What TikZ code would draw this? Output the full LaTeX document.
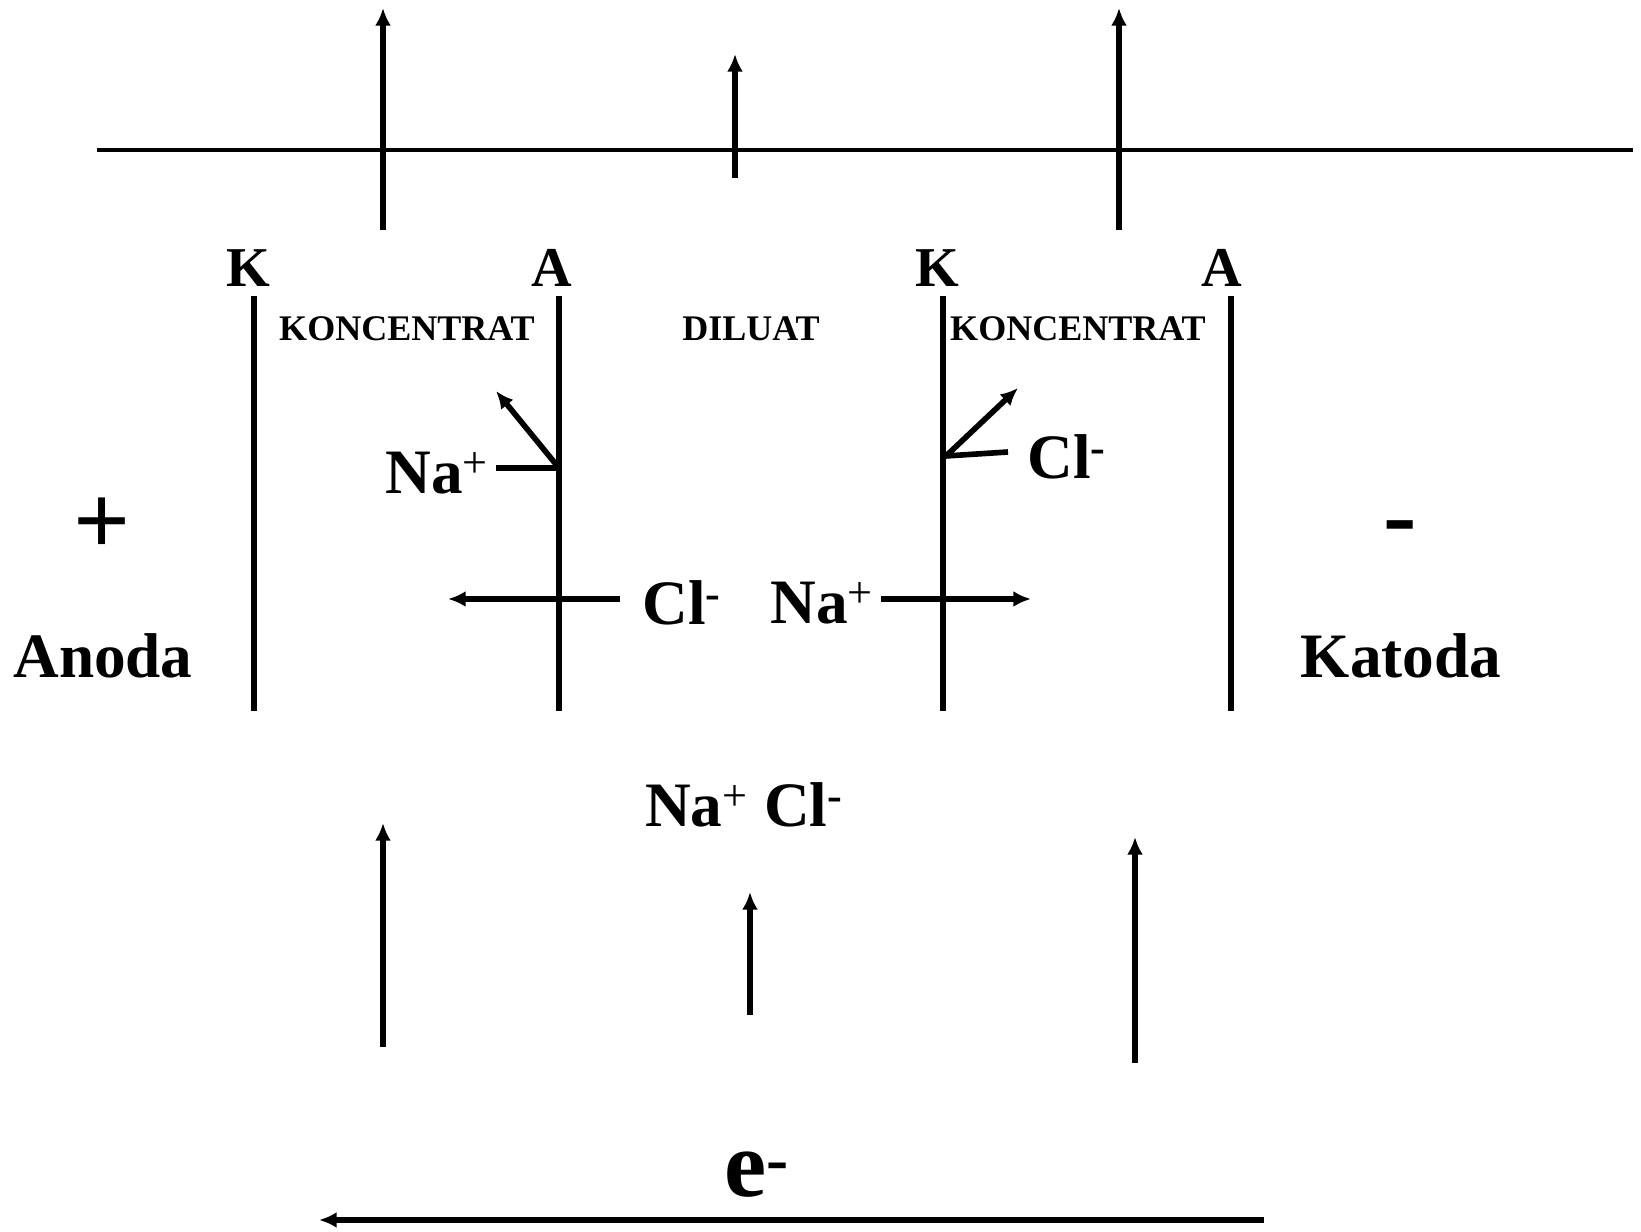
\documentclass[tikz,border=0pt]{standalone}
\usepackage{fontspec}
\setmainfont{Liberation Serif}
\usetikzlibrary{arrows.meta}

\newcommand{\plusup}{\textsuperscript{\mdseries+}}
\newcommand{\minusup}{\textsuperscript{-}}

\tikzset{
  membrane/.style={line width=3.1pt},
  flow/.style={->, line width=2.9pt},
  ion/.style={->, line width=3.2pt},
  memlbl/.style={inner sep=0pt, font=\bfseries\fontsize{32}{32}\selectfont},
  zone/.style={inner sep=0pt, font=\bfseries\fontsize{20.5}{20.5}\selectfont},
  chem/.style={inner sep=0pt, font=\bfseries\fontsize{36}{36}\selectfont},
  pole/.style={inner sep=0pt, font=\bfseries\fontsize{57}{57}\selectfont}
}

\begin{document}
\begin{tikzpicture}[>={Latex[length=10pt,width=9pt]}]

\useasboundingbox (0,0) rectangle (32.82,24.62);

% Top level line and outflow arrows
\draw[line width=1.9pt] (1.94,21.62) -- (32.66,21.62);
\draw[flow] (7.66,20.02) -- (7.66,24.46);
\draw[flow] (14.70,21.06) -- (14.70,23.54);
\draw[flow] (22.38,20.02) -- (22.38,24.46);

% Membranes
\draw[membrane] (5.08,10.40) -- (5.08,18.70);
\draw[membrane] (11.18,10.40) -- (11.18,18.70);
\draw[membrane] (18.86,10.40) -- (18.86,18.70);
\draw[membrane] (24.62,10.40) -- (24.62,18.70);

\node[memlbl] (k1) at (4.96,19.26)  {K};
\node[memlbl] (a1) at (11.04,19.26) {A};
\node[memlbl] (k2) at (18.74,19.26) {K};
\node[memlbl] (a2) at (24.44,19.26) {A};

% Compartments
\node[zone] (konc1) at (8.14,18.04)  {KONCENTRAT};
\node[zone] (dil)   at (15.02,18.04) {DILUAT};
\node[zone] (konc2) at (21.56,18.04) {KONCENTRAT};

% Ions at the anion membrane
\node[chem] (naL) at (8.74,15.16) {Na\plusup};
\coordinate (jA) at (11.18,15.26);
\draw[line width=3.2pt] ([xshift=4pt]naL.east |- jA) -- (jA);
\draw[ion] (jA) -- (9.92,16.80);

\node[chem] (clL) at (13.64,12.56) {Cl\minusup};
\coordinate (clTail) at (12.40,12.64);
\draw[ion] (clTail) -- (8.96,12.64);

% Ions at the cation membrane
\node[chem] (naR) at (16.44,12.56) {Na\plusup};
\coordinate (naTip) at (20.62,12.64);
\draw[ion] ([xshift=4pt]naR.east |- naTip) -- (naTip);

\node[chem] (clR) at (21.34,15.48) {Cl\minusup};
\coordinate (jK) at (18.92,15.50);
\draw[line width=3.2pt] (20.16,15.58) -- (jK);
\draw[ion] (jK) -- (20.36,16.86);

% Electrodes
\node[pole] (plus)  at (2.04,14.10)  {+};
\node[chem] (anoda) at (2.06,11.50)  {Anoda};
\node[pole] (minus) at (28.00,13.92) {-};
\node[chem] (katoda) at (28.02,11.50) {Katoda};

% Feed
\node[chem] (feed) at (14.88,8.52) {Na\plusup{} Cl\minusup};
\draw[flow] (7.66,3.68) -- (7.66,8.16);
\draw[flow] (15.00,4.32) -- (15.00,6.78);
\draw[flow] (22.70,3.36) -- (22.70,7.88);

% Electron flow
\node[inner sep=0pt, font=\bfseries\fontsize{54}{54}\selectfont] (elec) at (15.14,1.12) {e\minusup};
\draw[->, line width=3.9pt] (25.28,0.22) -- (6.38,0.22);

\end{tikzpicture}
\end{document}
